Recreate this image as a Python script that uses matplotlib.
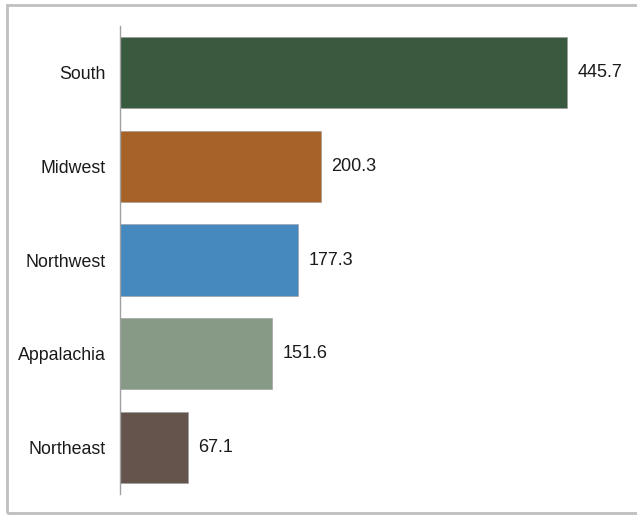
import matplotlib.pyplot as plt
from matplotlib.patches import Rectangle

regions = ["South", "Midwest", "Northwest", "Appalachia", "Northeast"]
values = [445.7, 200.3, 177.3, 151.6, 67.1]
colors = ["#395A3F", "#A76327", "#4589BF", "#879A86", "#64544B"]

plt.rcParams['font.family'] = ['Liberation Sans', 'DejaVu Sans']

fig = plt.figure(figsize=(6.37, 5.16), dpi=100)
ax = fig.add_axes([0.189, 0.042, 0.787, 0.908])

y_pos = list(range(len(regions)))
ax.barh(y_pos, values, height=0.76, color=colors, edgecolor="#9a9a9a", linewidth=0.4)
for y, v in zip(y_pos, values):
	ax.text(v + 10, y, f"{v:.1f}", va="center", ha="left", fontsize=13, color="#1a1a1a")

ax.set_yticks(y_pos)
ax.set_yticklabels(regions, fontsize=12.8, color="#1a1a1a")
ax.tick_params(axis="y", length=0, pad=10.5)
ax.set_xticks([])
ax.set_xlim(0, 500)
ax.set_ylim(4.5, -0.5)
for side in ["top", "right", "bottom"]:
	ax.spines[side].set_visible(False)
ax.spines["left"].set_color("#a0a0a0")
ax.spines["left"].set_linewidth(1)

# outer frame round the chart, right side runs off the edge
fig.patches.append(Rectangle((0.011, 0.005), 1.0, 0.986, transform=fig.transFigure,
	fill=False, edgecolor="#bfbfbf", linewidth=2))

plt.savefig("out.png")
